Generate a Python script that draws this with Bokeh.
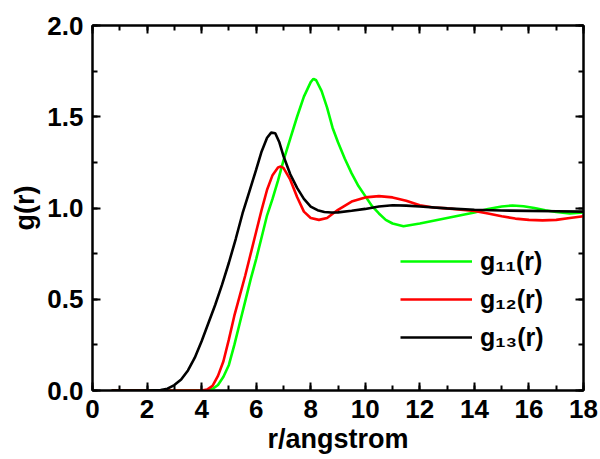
from bokeh.plotting import figure
from bokeh.models import (Range1d, LinearAxis, SingleIntervalTicker, Legend, LegendItem,
                          PrintfTickFormatter, CustomJSTickFormatter)
from bokeh.embed import file_html
from bokeh.resources import INLINE

# ---- data ----
r11 = [0.7, 2.0, 4.0, 4.2, 4.4, 4.6, 4.8, 5.0, 5.2, 5.4, 5.6, 5.8, 6.0, 6.2, 6.4, 6.6, 6.8,
       7.0, 7.25, 7.5, 7.75, 8.0, 8.1, 8.2, 8.4, 8.6, 8.8, 9.0, 9.25, 9.5, 9.75, 10.0,
       10.25, 10.5, 10.75, 11.0, 11.4, 12.0, 12.5, 13.0, 13.5, 14.0, 14.5, 15.0, 15.4,
       15.8, 16.2, 16.6, 17.0, 17.5, 18.0]
g11 = [0.0, 0.0, 0.0, 0.0, 0.008, 0.03, 0.075, 0.14, 0.25, 0.37, 0.49, 0.61, 0.72, 0.84,
       0.96, 1.05, 1.15, 1.26, 1.38, 1.50, 1.61, 1.69, 1.708, 1.70, 1.64, 1.55, 1.44, 1.36,
       1.27, 1.19, 1.12, 1.065, 1.01, 0.97, 0.935, 0.915, 0.90, 0.915, 0.93, 0.945, 0.96,
       0.975, 0.995, 1.008, 1.014, 1.01, 1.0, 0.988, 0.978, 0.97, 0.975]

r12 = [0.7, 2.0, 4.0, 4.2, 4.4, 4.6, 4.8, 5.0, 5.2, 5.4, 5.6, 5.8, 6.0, 6.2, 6.4, 6.6,
       6.8, 6.9, 7.0, 7.25, 7.5, 7.75, 8.0, 8.3, 8.6, 9.0, 9.5, 10.0, 10.5, 11.0, 11.5,
       12.0, 12.5, 13.0, 13.5, 14.0, 14.5, 15.0, 15.5, 16.0, 16.5, 17.0, 17.5, 18.0]
g12 = [0.0, 0.0, 0.0, 0.005, 0.025, 0.08, 0.16, 0.28, 0.41, 0.52, 0.63, 0.75, 0.87, 0.99,
       1.10, 1.18, 1.222, 1.227, 1.22, 1.155, 1.06, 0.98, 0.945, 0.935, 0.945, 0.99, 1.035,
       1.058, 1.065, 1.058, 1.04, 1.015, 1.003, 0.998, 0.99, 0.984, 0.97, 0.955, 0.942,
       0.935, 0.932, 0.935, 0.945, 0.955]

r13 = [0.7, 2.0, 2.5, 2.75, 3.0, 3.25, 3.5, 3.75, 4.0, 4.25, 4.5, 4.75, 5.0, 5.25, 5.5,
       5.75, 6.0, 6.2, 6.4, 6.55, 6.7, 6.85, 7.0, 7.25, 7.5, 7.75, 8.0, 8.25, 8.5, 8.75,
       9.0, 9.5, 10.0, 10.5, 11.0, 11.5, 12.0, 13.0, 14.0, 15.0, 16.0, 17.0, 18.0]
g13 = [0.0, 0.0, 0.002, 0.01, 0.03, 0.06, 0.11, 0.18, 0.27, 0.37, 0.47, 0.58, 0.70, 0.83,
       0.97, 1.09, 1.21, 1.31, 1.385, 1.413, 1.41, 1.36, 1.285, 1.185, 1.11, 1.05, 1.008,
       0.988, 0.978, 0.975, 0.976, 0.985, 0.995, 1.008, 1.015, 1.013, 1.008, 0.998, 0.99,
       0.986, 0.984, 0.982, 0.98]

series_labels = ["g\u2081\u2081(r)", "g\u2081\u2082(r)", "g\u2081\u2083(r)"]
series_colors = ["#00ff00", "#ff0000", "#000000"]

x_label = "r/angstrom"
y_label = "g(r)"

FONT = "Liberation Sans"

p = figure(width=600, height=459, output_backend="svg", toolbar_location=None,
           x_range=Range1d(0, 18), y_range=Range1d(0, 2.0),
           min_border_left=92, min_border_right=17, min_border_top=25,
           min_border_bottom=69)
p.xgrid.visible = False
p.ygrid.visible = False
p.outline_line_color = "black"
p.outline_line_width = 2
p.background_fill_color = "white"
p.border_fill_color = "white"

renderers = []
for rr, gg, c in zip([r11, r12, r13], [g11, g12, g13], series_colors):
    rend = p.line(rr, gg, line_color=c, line_width=2.6)
    renderers.append(rend)


def style_axis(ax, labels=True):
    ax.axis_line_width = 2
    ax.axis_line_color = "black"
    ax.major_tick_in = 8
    ax.major_tick_out = 0
    ax.minor_tick_in = 5
    ax.minor_tick_out = 0
    ax.major_tick_line_width = 2
    ax.minor_tick_line_width = 2
    if labels:
        ax.major_label_text_font = FONT
        ax.major_label_text_font_style = "bold"
        ax.major_label_text_font_size = "26px"
        ax.major_label_text_color = "black"
        ax.axis_label_text_font = FONT
        ax.axis_label_text_font_style = "bold"
        ax.axis_label_text_font_size = "27px"
        ax.axis_label_text_color = "black"
    else:
        ax.formatter = CustomJSTickFormatter(code="return ''")
        ax.major_label_standoff = 0


p.xaxis.ticker = SingleIntervalTicker(interval=2, num_minor_ticks=2)
p.yaxis.ticker = SingleIntervalTicker(interval=0.5, num_minor_ticks=2)
p.yaxis.formatter = PrintfTickFormatter(format="%.1f")
style_axis(p.xaxis[0])
style_axis(p.yaxis[0])
p.xaxis.axis_label = x_label
p.yaxis.axis_label = y_label
p.xaxis.major_label_standoff = 9
p.xaxis.axis_label_standoff = 3
p.yaxis.major_label_standoff = 9
p.yaxis.axis_label_standoff = 4

top = LinearAxis(ticker=SingleIntervalTicker(interval=2, num_minor_ticks=2))
right = LinearAxis(ticker=SingleIntervalTicker(interval=0.5, num_minor_ticks=2))
style_axis(top, labels=False)
style_axis(right, labels=False)
p.add_layout(top, "above")
p.add_layout(right, "right")

legend = Legend(items=[LegendItem(label=l, renderers=[r]) for l, r in zip(series_labels, renderers)],
                location=(308, 38), padding=0, margin=0, spacing=8,
                glyph_width=72, glyph_height=30, label_height=30,
                label_standoff=8, border_line_color=None, background_fill_alpha=0,
                label_text_font=FONT, label_text_font_style="bold",
                label_text_font_size="25px", label_text_color="black")
p.add_layout(legend, "center")

open("out.html", "w").write(file_html(p, INLINE))
